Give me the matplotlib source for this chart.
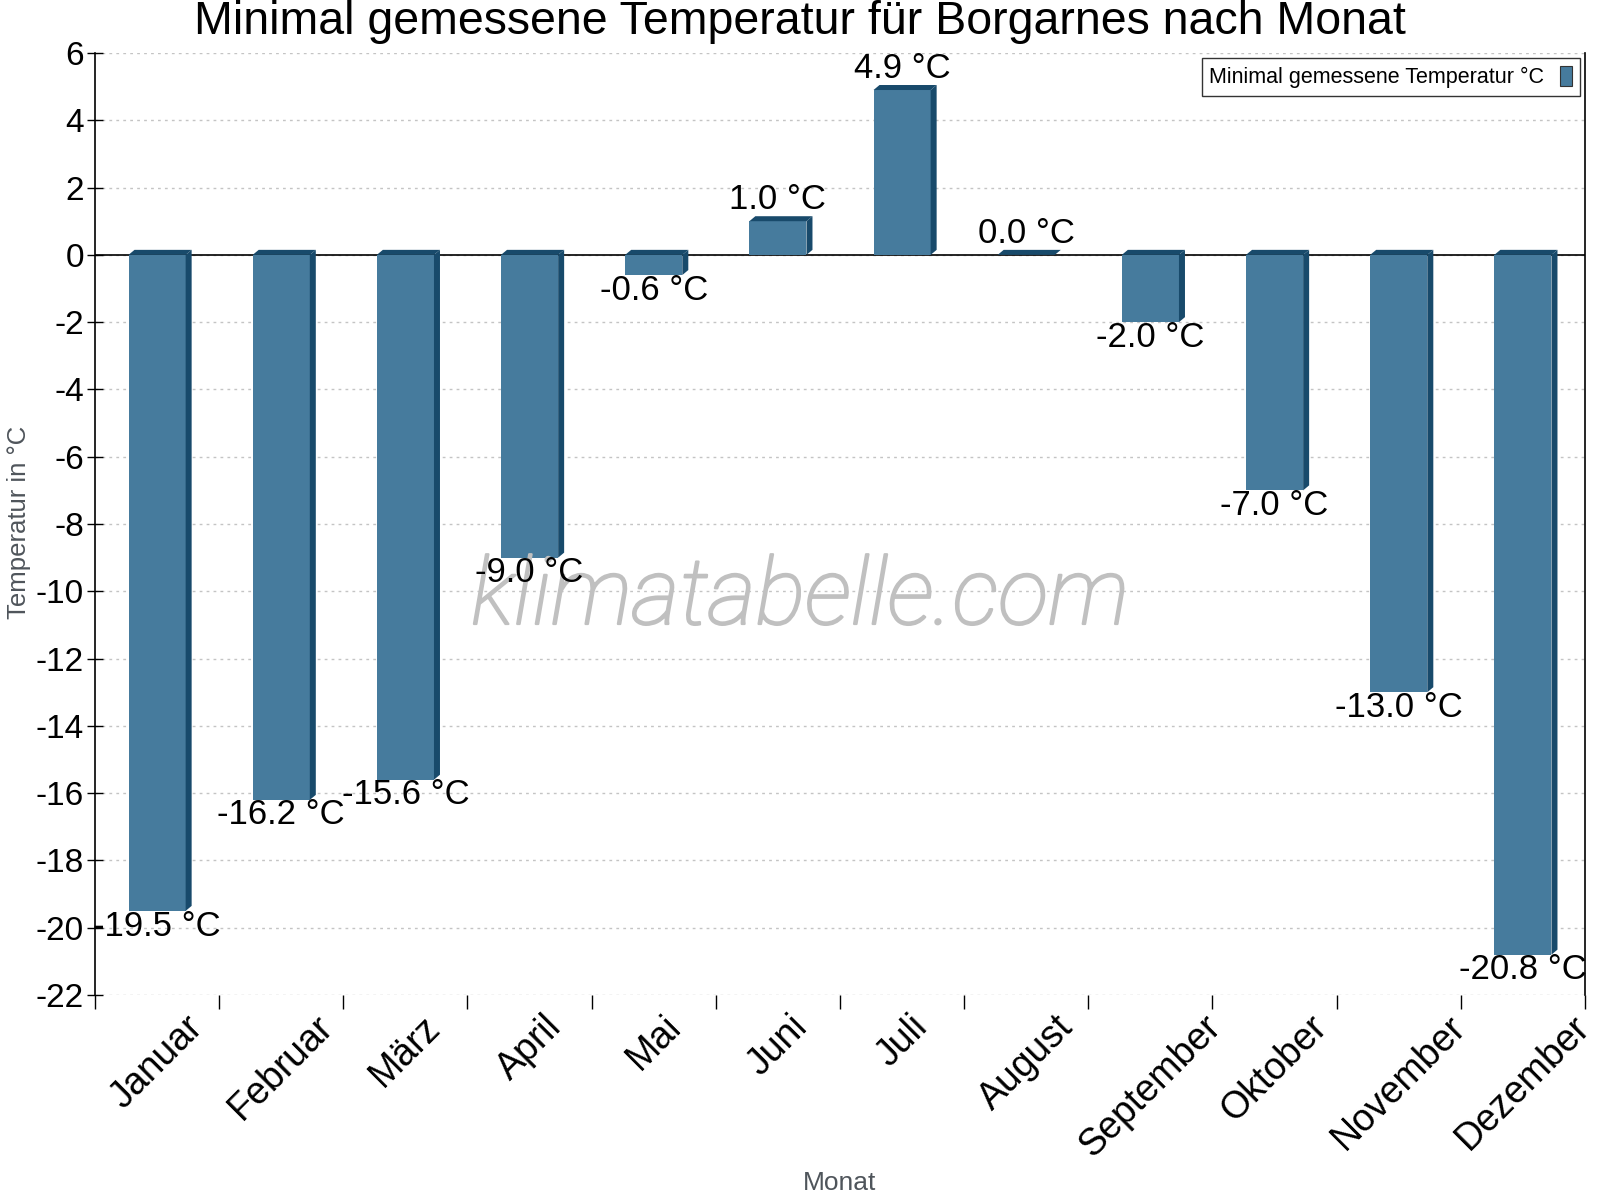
import matplotlib
matplotlib.use("Agg")
import matplotlib.pyplot as plt
from matplotlib.patches import Polygon, Patch
import matplotlib.patheffects as pe
import numpy as np

plt.rcParams['font.family'] = ['Liberation Sans', 'DejaVu Sans']

months = ["Januar", "Februar", "März", "April", "Mai", "Juni", "Juli",
          "August", "September", "Oktober", "November", "Dezember"]
min_temp = [-19.5, -16.2, -15.6, -9.0, -0.6, 1.0, 4.9, 0.0, -2.0, -7.0, -13.0, -20.8]
y_ticks = [6, 4, 2, 0, -2, -4, -6, -8, -10, -12, -14, -16, -18, -20, -22]

title = "Minimal gemessene Temperatur für Borgarnes nach Monat"
series_name = "Minimal gemessene Temperatur °C"
y_label = "Temperatur in °C"
x_label = "Monat"
watermark = "klimatabelle.com"

FRONT = "#467b9d"
DARK = "#184a6b"

W, H = 1600, 1200
fig = plt.figure(figsize=(16, 12), dpi=100)
ax = fig.add_axes([95 / W, 1 - 995 / H, (1585 - 95) / W, (995 - 53) / H])
ax.set_xlim(-0.5, 11.5)
ax.set_ylim(-22, 6)

x = np.arange(len(months))
bw = 0.46
dx = 6 / ((1585 - 95) / 12)
dy = 5 / ((995 - 53) / 28)

# grid
for t in y_ticks:
    ax.axhline(t, color="#c4c4c4", lw=1.0, ls=(0, (2, 3)), zorder=0)
ax.axhline(0, color="black", lw=1.2, zorder=1)

ax.bar(x, min_temp, width=bw, color=FRONT, zorder=3, linewidth=0)
for xi, v in zip(x, min_temp):
    x0, x1 = xi - bw / 2, xi + bw / 2
    ytop, ybot = max(v, 0), min(v, 0)
    top = Polygon([(x0, ytop), (x0 + dx, ytop + dy), (x1 + dx, ytop + dy), (x1, ytop)],
                  closed=True, facecolor=DARK, edgecolor="none", zorder=3)
    side = Polygon([(x1, ybot), (x1 + dx, ybot + dy), (x1 + dx, ytop + dy), (x1, ytop)],
                   closed=True, facecolor=DARK, edgecolor="none", zorder=3)
    ax.add_patch(top)
    ax.add_patch(side)
    lab = f"{v:.1f} °C"
    if v >= 0:
        ax.annotate(lab, (xi, v + dy), xytext=(0, 0), textcoords="offset points",
                    ha="center", va="bottom", fontsize=25, zorder=6)
    else:
        ax.annotate(lab, (xi, v), xytext=(0, 1), textcoords="offset points",
                    ha="center", va="top", fontsize=25, zorder=6)

# watermark (behind value labels)
ax.text(0.5, 1 - 624 / H, watermark, transform=fig.transFigure,
        ha="center", va="baseline", fontsize=67,
        family=["Roboto", "DejaVu Sans"], fontweight="light", style="italic",
        color="#c0c0c0", zorder=5,
        path_effects=[pe.withStroke(linewidth=1.6, foreground="#c0c0c0")])

# axes styling
for s in ["top", "bottom"]:
    ax.spines[s].set_visible(False)
ax.spines["left"].set_color("black")
ax.spines["right"].set_color("black")
ax.spines["left"].set_linewidth(1.2)
ax.spines["right"].set_linewidth(1.2)

ax.set_yticks(y_ticks)
ax.set_yticklabels([str(t) for t in y_ticks])
ax.tick_params(axis="y", direction="inout", length=12, width=1, labelsize=24, pad=2)

ax.set_xticks(x)
ax.set_xticklabels(months, rotation=45, ha="center", fontsize=27)
ax.set_xticks(np.arange(-0.5, 12, 1), minor=True)
ax.tick_params(axis="x", which="major", length=0, pad=10)
ax.tick_params(axis="x", which="minor", direction="out", length=10, width=1)

# legend
handle = Patch(facecolor=FRONT, edgecolor="#333333", linewidth=0.8)
leg = fig.legend([handle], [series_name], loc="upper right",
                 bbox_to_anchor=(1580 / W, 1 - 58 / H), fontsize=15.5,
                 markerfirst=False, frameon=True, fancybox=False,
                 handlelength=0.6, handleheight=1.1, borderpad=0.35,
                 handletextpad=0.7, borderaxespad=0)
leg.get_frame().set_edgecolor("black")
leg.get_frame().set_linewidth(1.0)

# texts
fig.text(0.5, 1 - 22 / H, title, ha="center", va="center", fontsize=33.5)
fig.text(19 / W, 1 - 522 / H, y_label, rotation=90, ha="center", va="center",
         fontsize=18.5, color="#4f555b")
fig.text(840 / W, 1 - 1183 / H, x_label, ha="center", va="center",
         fontsize=19, color="#4f555b")

fig.savefig("out.png", dpi=100)
